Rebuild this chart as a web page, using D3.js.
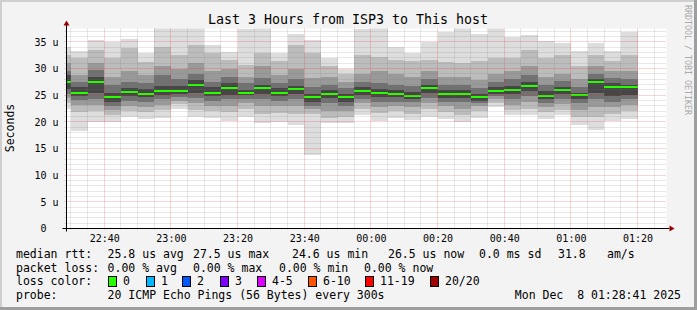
<!DOCTYPE html>
<html>
<head>
<meta charset="utf-8">
<script src="https://cdn.jsdelivr.net/npm/d3@7/dist/d3.min.js"></script>
<style>
body { margin: 0; background: #f3f3f3; }
text { font-family: "DejaVu Sans Mono", monospace; }
</style>
</head>
<body>
<svg id="chart"></svg>
<script>
// chart size
let width = 697
let height = 310

// end time of every 5 minute step (Dec 7 -> Dec 8 2025)
let times = ['22:30','22:35','22:40','22:45','22:50','22:55','23:00','23:05','23:10','23:15',
             '23:20','23:25','23:30','23:35','23:40','23:45','23:50','23:55','00:00','00:05',
             '00:10','00:15','00:20','00:25','00:30','00:35','00:40','00:45','00:50','00:55',
             '01:00','01:05','01:10','01:15','01:20']

// sorted ping smoke, outer band to inner band (microseconds)
let pMin = [22.5,18.2,20.0,20.0,21.0,20.5,20.7,22.5,21.0,20.7,20.2,21.0,19.8,20.0,19.5,13.7,19.8,19.8,21.3,20.2,20.7,20.4,21.0,20.5,19.9,20.8,22.8,21.3,21.3,20.5,21.3,19.4,18.5,20.2,20.5]
let lo2  = [23.5,21.9,22.0,21.3,22.0,21.8,22.3,23.3,22.3,22.0,21.8,22.5,21.5,21.7,21.5,21.5,20.8,21.0,22.5,21.6,22.0,21.5,22.5,21.8,21.2,22.0,23.5,22.2,22.5,21.8,22.3,21.0,21.0,21.5,22.0]
let lo3  = [24.5,23.2,23.2,22.2,23.0,22.8,23.2,24.0,23.5,23.0,23.0,23.5,23.0,23.0,23.0,22.5,22.0,22.0,23.5,22.7,23.0,22.7,23.5,23.0,22.5,23.0,24.2,23.2,23.8,22.8,23.3,22.3,22.8,22.7,23.2]
let lo4  = [25.3,24.1,24.2,22.9,24.0,23.7,24.2,24.7,24.5,24.0,24.2,24.3,24.3,24.0,24.2,23.0,23.5,23.0,24.3,23.7,23.8,23.7,24.5,23.8,23.7,23.5,24.8,24.2,24.8,23.5,24.3,23.5,24.2,23.8,24.2]
let lo5  = [26.2,24.8,25.5,23.7,24.8,24.6,25.0,25.3,25.5,24.8,25.0,25.0,25.2,24.8,25.3,23.8,24.5,23.8,25.0,24.6,24.6,24.3,25.5,24.5,24.5,24.0,25.2,25.2,25.8,24.2,25.3,24.3,25.5,24.8,25.0]
let hi5  = [28.8,26.5,28.5,25.5,26.3,26.2,26.8,26.8,27.8,26.5,27.2,26.0,27.0,26.3,26.8,25.2,26.0,25.2,26.5,26.2,26.0,25.6,27.0,26.0,25.9,25.2,26.5,26.8,27.5,25.7,26.6,25.5,28.0,27.2,27.0]
let hi4  = [29.5,27.5,29.7,26.9,27.5,27.3,28.8,28.0,29.0,27.5,28.5,27.2,28.2,27.3,28.0,26.5,27.0,26.3,27.5,27.3,27.0,26.8,28.0,27.0,26.9,26.3,27.5,28.0,28.8,27.0,27.6,26.5,29.0,28.2,28.0]
let hi3  = [31.0,28.8,31.0,28.5,29.5,28.8,30.5,30.0,31.0,29.5,30.0,28.5,30.4,28.8,30.0,28.2,28.5,27.5,29.0,29.5,29.0,28.5,29.5,28.5,28.5,27.8,29.0,29.5,30.5,28.5,29.0,28.0,30.5,29.5,29.5]
let hi2  = [32.5,31.9,33.5,32.0,33.9,31.2,34.1,32.6,34.4,32.9,31.6,30.7,32.9,31.5,34.4,32.9,30.4,29.0,32.6,32.2,31.6,31.5,31.6,31.3,31.0,31.5,32.0,32.0,33.5,32.0,32.5,30.5,32.6,31.5,32.5]
let pMax = [34.0,33.2,35.4,35.0,35.5,32.9,37.6,37.8,37.6,34.4,33.1,37.4,37.7,32.9,36.4,35.4,32.0,30.0,37.4,37.7,34.1,33.0,35.0,36.8,37.8,36.4,37.6,36.0,36.3,35.2,34.7,33.2,34.7,33.2,36.9]

// median rtt line
let median = [27.5,25.5,27.5,24.6,25.6,25.3,25.7,25.8,26.9,25.5,26.4,25.5,26.4,25.5,26.1,24.6,25.3,24.6,25.7,25.4,25.3,24.9,26.4,25.2,25.2,24.6,25.7,25.9,26.7,24.9,26.0,25.0,27.4,26.6,26.5]

// axis ticks
let yTicks = [0, 5, 10, 15, 20, 25, 30, 35]

// legend
let rttStats = ['25.8 us avg', '27.5 us max', '24.6 us min', '26.5 us now', '0.0 ms sd', '31.8', 'am/s']
let lossStats = ['0.00 % avg', '0.00 % max', '0.00 % min', '0.00 % now']
let lossLabels = ['0', '1', '2', '3', '4-5', '6-10', '11-19', '20/20']
let lossColors = ['#26ff00', '#00b8ff', '#0059ff', '#7e00ff', '#dd00ff', '#ff5500', '#ff0000', '#a10000']

let shades = ['#dddddd', '#bcbcbc', '#999999', '#717171', '#464646']

let svg = d3.select('#chart')
            .attr('width', width)
            .attr('height', height)

// frame
svg.append('rect').attr('width', width).attr('height', height).attr('fill', '#f3f3f3')
svg.append('rect').attr('x', 0).attr('y', 0).attr('width', width).attr('height', 2).attr('fill', '#cfcfcf')
svg.append('rect').attr('x', 0).attr('y', 0).attr('width', 2).attr('height', height).attr('fill', '#cfcfcf')
svg.append('rect').attr('x', width - 3).attr('y', 0).attr('width', 3).attr('height', height).attr('fill', '#9e9e9e')
svg.append('rect').attr('x', 0).attr('y', height - 3).attr('width', width).attr('height', 3).attr('fill', '#9e9e9e')

let parseTime = s => {
    let [h, m] = s.split(':').map(Number)
    return new Date(2025, 11, h >= 12 ? 7 : 8, h, m, 0)
}
let tStart = new Date(2025, 11, 7, 22, 28, 41)
let tEnd = new Date(2025, 11, 8, 1, 28, 41)

let plotLeft = 66.5, plotRight = 666.5, plotTop = 28.5, plotBottom = 228.5

let xScale = d3.scaleTime().domain([tStart, tEnd]).range([plotLeft, plotRight])
let yScale = d3.scaleLinear().domain([0, 37.5]).range([plotBottom, plotTop])

// canvas
svg.append('rect').attr('x', plotLeft).attr('y', plotTop)
    .attr('width', plotRight - plotLeft).attr('height', plotBottom - plotTop).attr('fill', '#ffffff')

svg.append('clipPath').attr('id', 'plot')
    .append('rect').attr('x', plotLeft).attr('y', plotTop)
    .attr('width', plotRight - plotLeft).attr('height', plotBottom - plotTop)

let plot = svg.append('g').attr('clip-path', 'url(#plot)')

let stepEnd = i => parseTime(times[i])
let barX = i => Math.max(plotLeft, xScale(d3.timeMinute.offset(stepEnd(i), -5)))
let barW = i => xScale(stepEnd(i)) - barX(i)

// smoke, outer bands first
let bands = [[pMin, pMax], [lo2, hi2], [lo3, hi3], [lo4, hi4], [lo5, hi5]]
bands.forEach(([lo, hi], b) => {
    plot.append('g').selectAll('rect')
        .data(times)
        .enter()
        .append('rect')
        .attr('shape-rendering', 'crispEdges')
        .attr('x', (d, i) => barX(i))
        .attr('width', (d, i) => barW(i))
        .attr('y', (d, i) => yScale(hi[i]))
        .attr('height', (d, i) => yScale(lo[i]) - yScale(hi[i]))
        .attr('fill', shades[b])
})

// median line
plot.append('g').selectAll('rect')
    .data(median)
    .enter()
    .append('rect')
    .attr('shape-rendering', 'crispEdges')
    .attr('x', (d, i) => barX(i))
    .attr('width', (d, i) => barW(i))
    .attr('y', d => yScale(d) - 1)
    .attr('height', 2)
    .attr('fill', lossColors[0])

// grid (drawn on top like rrdtool)
let grid = svg.append('g').attr('fill', 'none').attr('stroke-dasharray', '1,1')
let px = v => Math.floor(v) + 0.5

d3.timeMinute.every(5).range(tStart, tEnd).forEach(t => {
    let major = t.getMinutes() % 20 === 0
    grid.append('line')
        .attr('x1', px(xScale(t))).attr('x2', px(xScale(t)))
        .attr('y1', plotTop).attr('y2', plotBottom + 2)
        .attr('stroke', major ? 'rgba(220,50,50,0.4)' : 'rgba(120,120,120,0.35)')
})
d3.range(1, 38).forEach(v => {
    let major = v % 5 === 0
    grid.append('line')
        .attr('x1', plotLeft - 2).attr('x2', plotRight)
        .attr('y1', px(yScale(v))).attr('y2', px(yScale(v)))
        .attr('stroke', major ? 'rgba(220,50,50,0.4)' : 'rgba(120,120,120,0.35)')
})

// axes
let xAxis = d3.axisBottom(xScale)
    .ticks(d3.timeMinute.every(20))
    .tickFormat(d3.timeFormat('%H:%M'))
    .tickSize(0)
let gx = svg.append('g').attr('transform', 'translate(0,' + plotBottom + ')').call(xAxis)
gx.select('.domain').remove()
gx.selectAll('text').attr('y', 13).attr('dy', 0)
    .attr('font-family', '"DejaVu Sans Mono", monospace').attr('font-size', 10).attr('fill', '#000')

let yAxis = d3.axisLeft(yScale)
    .tickValues(yTicks)
    .tickFormat(d => d === 0 ? '0' : d + ' u')
    .tickSize(0)
let gy = svg.append('g').attr('transform', 'translate(' + plotLeft + ',0)').call(yAxis)
gy.select('.domain').remove()
gy.selectAll('text')
    .attr('x', d => d === 0 ? -20 : -8)
    .attr('font-family', '"DejaVu Sans Mono", monospace').attr('font-size', 10).attr('fill', '#000')

svg.append('line').attr('x1', plotLeft - 4).attr('x2', plotRight + 3)
    .attr('y1', plotBottom).attr('y2', plotBottom).attr('stroke', '#000')
svg.append('line').attr('x1', plotLeft).attr('x2', plotLeft)
    .attr('y1', plotBottom + 3).attr('y2', plotTop - 4).attr('stroke', '#000')
svg.append('path').attr('d', `M${plotRight + 3},${plotBottom - 3}L${plotRight + 8},${plotBottom}L${plotRight + 3},${plotBottom + 3}Z`).attr('fill', '#9b0000')
svg.append('path').attr('d', `M${plotLeft - 3},${plotTop - 3}L${plotLeft},${plotTop - 8}L${plotLeft + 3},${plotTop - 3}Z`).attr('fill', '#9b0000')

// titles
svg.append('text').attr('x', 348).attr('y', 24).attr('text-anchor', 'middle')
    .attr('font-size', 13.3).text('Last 3 Hours from ISP3 to This host')
svg.append('text').attr('transform', 'translate(14,128) rotate(-90)').attr('text-anchor', 'middle')
    .attr('font-size', 11.5).text('Seconds')
svg.append('text').attr('transform', 'translate(685,5) rotate(90)')
    .attr('font-size', 8.3).attr('fill', '#aaaaaa').text('RRDTOOL / TOBI OETIKER')

// legend
let legend = svg.append('g').attr('font-size', 11.5).attr('fill', '#000')
let rttX = [107.6, 193, 292, 388, 479, 558, 607]
let lossX = [107.6, 193, 279, 364]

legend.append('text').attr('x', 16).attr('y', 258).text('median rtt:')
rttStats.forEach((s, i) => legend.append('text').attr('x', rttX[i]).attr('y', 258).text(s))

legend.append('text').attr('x', 16).attr('y', 271.5).text('packet loss:')
lossStats.forEach((s, i) => legend.append('text').attr('x', lossX[i]).attr('y', 271.5).text(s))

legend.append('text').attr('x', 16).attr('y', 285).text('loss color:')
let boxX = [108, 146, 182, 220, 257, 308, 365, 430]
lossLabels.forEach((s, i) => {
    legend.append('rect').attr('x', boxX[i] + 0.5).attr('y', 276.5).attr('width', 8).attr('height', 10)
        .attr('fill', lossColors[i]).attr('stroke', '#000')
    legend.append('text').attr('x', boxX[i] + 15).attr('y', 285).text(s)
})

legend.append('text').attr('x', 16).attr('y', 298.5).text('probe:')
legend.append('text').attr('x', 107.6).attr('y', 298.5).text('20 ICMP Echo Pings (56 Bytes) every 300s')
legend.append('text').attr('x', 681).attr('y', 298.5).attr('text-anchor', 'end')
    .style('white-space', 'pre').text('Mon Dec  8 01:28:41 2025')
</script>
</body>
</html>
